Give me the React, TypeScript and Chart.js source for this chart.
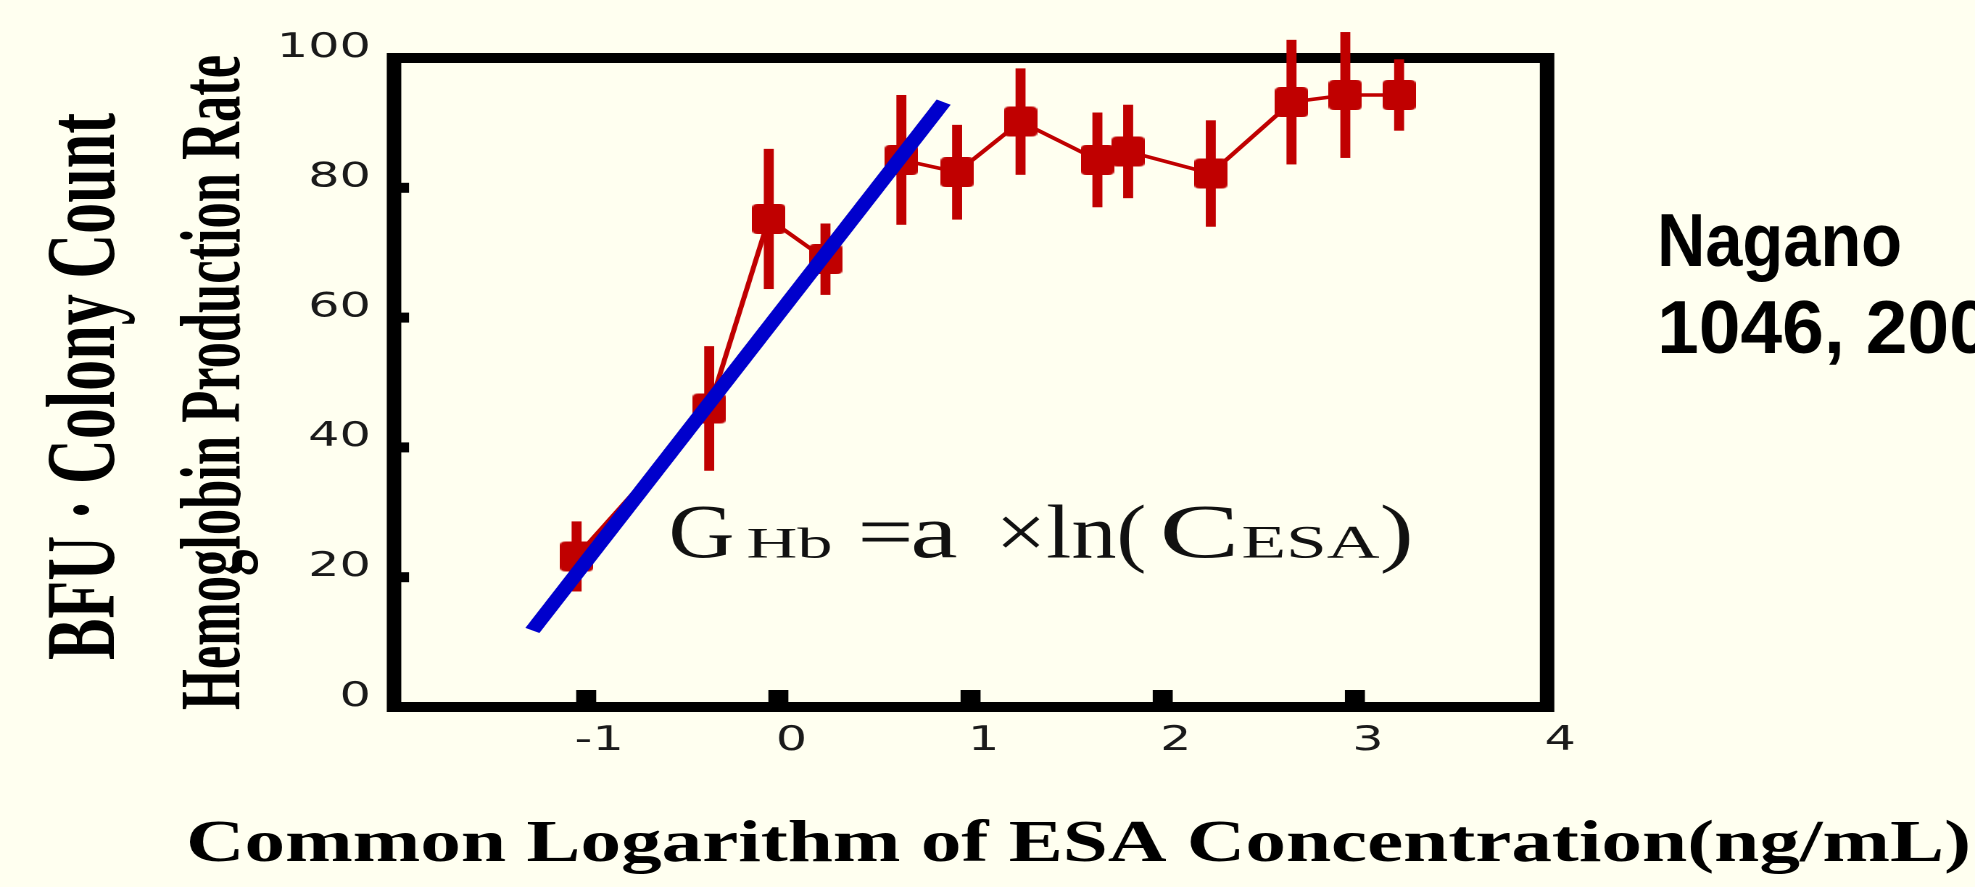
import React, { useEffect, useRef } from 'react';
import { Chart, registerables } from 'chart.js';

Chart.register(...registerables);

// ---------------- data ----------------
const esaLogConc = [-1.05, -0.36, -0.05, 0.245, 0.64, 0.93, 1.26, 1.66, 1.82, 2.25, 2.67, 2.95, 3.23];
const hbRate = [23.2, 46, 75.2, 69, 84.3, 82.4, 90.2, 84.3, 85.6, 82.2, 93.2, 94.3, 94.3];
const hbError = [5.4, 9.6, 10.8, 5.5, 10, 7.3, 8.2, 7.3, 7.2, 8.2, 9.6, 9.7, 5.5];
const fitLogConc = [-1.28, 0.86];
const fitRate = [11.8, 93.2];
const xTickMarks = [-1, 0, 1, 2, 3];
const yTickMarks = [20, 40, 60, 80];
const xRange = [-2, 4];
const yRange = [0, 100];

const yTitleOuter = 'BFU · Colony Count';
const yTitleInner = 'Hemoglobin Production Rate';
const xTitle = 'Common Logarithm of ESA Concentration(ng/mL)';
const citationLines = ['Nagano', '1046, 200'];
const formulaAnchor = { x: -0.572, y: 23.0 };

// ---------------- styling / layout ----------------
const BG = '#fffff0';
const RED = '#c00000';
const BLUE = '#0000cc';
const SX = 1.45; // horizontal stretch of the whole picture
const CW = Math.round(1975 / SX);
const CH = 887;
const D = (px: number) => px / SX; // display px -> canvas px (horizontal)

const AREA_LEFT = D(394);
const AREA_RIGHT = D(1547);
const AREA_TOP = 58;
const AREA_BOTTOM = 707;
const Y_AXIS_W = 120;
const X_AXIS_H = 60;

function makeSquare() {
  const c = document.createElement('canvas');
  c.width = 23;
  c.height = 30;
  const g = c.getContext('2d')!;
  const w = 23, h = 30, r = 4;
  g.fillStyle = RED;
  g.beginPath();
  g.moveTo(r, 0);
  g.lineTo(w - r, 0);
  g.quadraticCurveTo(w, 0, w, r);
  g.lineTo(w, h - r);
  g.quadraticCurveTo(w, h, w - r, h);
  g.lineTo(r, h);
  g.quadraticCurveTo(0, h, 0, h - r);
  g.lineTo(0, r);
  g.quadraticCurveTo(0, 0, r, 0);
  g.closePath();
  g.fill();
  return c;
}

function drawStretched(ctx: CanvasRenderingContext2D, text: string, font: string, x: number, y: number, sx: number) {
  ctx.save();
  ctx.font = font;
  ctx.textAlign = 'left';
  ctx.textBaseline = 'alphabetic';
  ctx.translate(x, y);
  ctx.scale(sx, 1);
  ctx.fillText(text, 0, 0);
  ctx.restore();
}

function drawFitted(ctx: CanvasRenderingContext2D, text: string, font: string, x: number, y: number, width: number) {
  ctx.save();
  ctx.font = font;
  ctx.textAlign = 'left';
  ctx.textBaseline = 'alphabetic';
  const m = ctx.measureText(text).width;
  ctx.translate(x, y);
  ctx.scale(width / m, 1);
  ctx.fillText(text, 0, 0);
  ctx.restore();
}

function drawFittedVertical(ctx: CanvasRenderingContext2D, text: string, font: string, x: number, yStart: number, length: number) {
  ctx.save();
  ctx.font = font;
  ctx.textAlign = 'left';
  ctx.textBaseline = 'alphabetic';
  const m = ctx.measureText(text).width;
  ctx.translate(x, yStart);
  ctx.rotate(-Math.PI / 2);
  ctx.scale(length / m, 1);
  ctx.fillText(text, 0, 0);
  ctx.restore();
}

const framePlugin = {
  id: 'frameAndErrors',
  beforeDatasetsDraw(chart: any) {
    const ctx = chart.ctx as CanvasRenderingContext2D;
    const { left, right, top, bottom } = chart.chartArea;
    const xs = chart.scales.x;
    const ys = chart.scales.y;
    ctx.save();
    ctx.strokeStyle = '#000';
    ctx.fillStyle = '#000';
    ctx.lineWidth = 10;
    ctx.lineJoin = 'miter';
    ctx.strokeRect(left, top, right - left, bottom - top);
    yTickMarks.forEach((v) => {
      const py = ys.getPixelForValue(v);
      ctx.fillRect(left, py - 5, D(15), 10);
    });
    xTickMarks.forEach((v) => {
      const px = xs.getPixelForValue(v);
      ctx.fillRect(px - D(10), bottom - 17, D(20), 17);
    });
    ctx.fillStyle = RED;
    esaLogConc.forEach((xv, i) => {
      const px = xs.getPixelForValue(xv);
      const y1 = ys.getPixelForValue(hbRate[i] + hbError[i]);
      const y2 = ys.getPixelForValue(hbRate[i] - hbError[i]);
      ctx.fillRect(px - D(5), y1, D(10), y2 - y1);
    });
    ctx.restore();
  },
};

// [text, display offset from anchor, font size, display width]
const formulaPieces: [string, number, number, number][] = [
  ['G', 0, 76, 66],
  ['Hb', 78, 43, 86],
  ['=', 189, 76, 56],
  ['a', 242, 76, 47],
  ['×ln(', 327, 76, 151],
  ['C', 491, 76, 80],
  ['ESA', 573, 47, 138],
  [')', 711, 76, 34],
];

const textPlugin = {
  id: 'texts',
  afterDraw(chart: any) {
    const ctx = chart.ctx as CanvasRenderingContext2D;
    const xs = chart.scales.x;
    const ys = chart.scales.y;
    ctx.save();
    ctx.fillStyle = '#000';
    // y titles (rotated)
    drawFittedVertical(ctx, yTitleOuter, `bold ${(65 / SX / 0.662).toFixed(1)}px "Liberation Serif"`, D(114), 660, 547);
    drawFittedVertical(ctx, yTitleInner, `bold ${(57 / SX / 0.662).toFixed(1)}px "Liberation Serif"`, D(239), 710, 655);
    // x title
    drawFitted(ctx, xTitle, `bold ${(39 / 0.662).toFixed(1)}px "Liberation Serif"`, D(186), 861, D(1785));
    // citation
    drawStretched(ctx, citationLines[0], 'bold 75px "Liberation Sans"', D(1657), 266, 0.89 / SX);
    drawStretched(ctx, citationLines[1], 'bold 75px "Liberation Sans"', D(1657), 353, 1 / SX);
    // formula
    const ox = xs.getPixelForValue(formulaAnchor.x);
    const oy = ys.getPixelForValue(formulaAnchor.y);
    ctx.fillStyle = '#111';
    formulaPieces.forEach(([t, off, size, w]) => {
      drawFitted(ctx, t, `${size}px "Liberation Serif"`, ox + D(off), oy, D(w));
    });
    ctx.restore();
  },
};

export default function App() {
  const ref = useRef<HTMLCanvasElement>(null);
  useEffect(() => {
    document.body.style.margin = '0';
    document.body.style.background = BG;
    const canvas = ref.current!;
    const square = makeSquare();
    const chart = new Chart(canvas, {
      type: 'line',
      data: {
        datasets: [
          {
            data: esaLogConc.map((x, i) => ({ x, y: hbRate[i] })),
            borderColor: RED,
            backgroundColor: RED,
            borderWidth: 3.5,
            pointStyle: square as any,
            pointRadius: 12,
            order: 2,
            clip: false as any,
          },
          {
            data: fitLogConc.map((x, i) => ({ x, y: fitRate[i] })),
            borderColor: BLUE,
            backgroundColor: BLUE,
            borderWidth: 11,
            borderCapStyle: 'butt',
            pointRadius: 0,
            order: 1,
            clip: false as any,
          },
        ],
      },
      options: {
        responsive: false,
        animation: false,
        devicePixelRatio: 2,
        layout: {
          padding: {
            left: AREA_LEFT - Y_AXIS_W,
            right: CW - AREA_RIGHT,
            top: AREA_TOP,
            bottom: CH - AREA_BOTTOM - X_AXIS_H,
          },
        },
        plugins: {
          legend: { display: false },
          tooltip: { enabled: false },
          title: { display: false },
        },
        scales: {
          x: {
            type: 'linear',
            min: xRange[0],
            max: xRange[1],
            afterFit: (s: any) => {
              s.height = X_AXIS_H;
            },
            grid: { display: false, drawTicks: false },
            border: { display: false },
            ticks: {
              stepSize: 1,
              padding: 14,
              labelOffset: 9,
              autoSkip: false,
              maxRotation: 0,
              color: '#1a1a1a',
              font: { family: 'DejaVu Sans', size: 34 },
              callback: (v: any) => (Number(v) === xRange[0] ? '' : String(v)),
            },
          },
          y: {
            type: 'linear',
            min: yRange[0],
            max: yRange[1],
            afterFit: (s: any) => {
              s.width = Y_AXIS_W;
            },
            grid: { display: false, drawTicks: false },
            border: { display: false },
            ticks: {
              stepSize: 20,
              padding: 16,
              labelOffset: -10,
              color: '#1a1a1a',
              font: { family: 'DejaVu Sans', size: 34 },
            },
          },
        },
      },
      plugins: [framePlugin, textPlugin],
    } as any);
    return () => chart.destroy();
  }, []);
  return (
    <div style={{ width: 1975, height: 887, background: BG, overflow: 'hidden' }}>
      <canvas ref={ref} width={CW} height={CH} style={{ width: '1975px', height: '887px', display: 'block' }} />
    </div>
  );
}
